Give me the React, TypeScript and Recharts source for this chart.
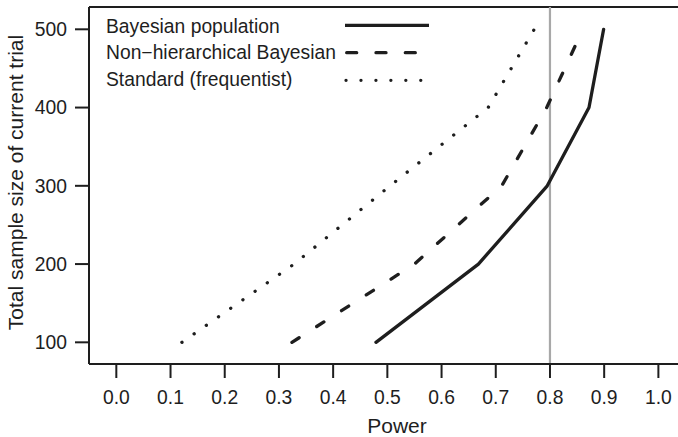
import React from 'react';
import { LineChart, Line, XAxis, YAxis, ReferenceLine, Legend } from 'recharts';

// Power (x) vs total sample size (y)
const bayesPopPower = [0.479, 0.668, 0.795, 0.872, 0.899];
const bayesPopN = [100, 200, 300, 400, 500];

const nonHierPower = [0.324, 0.55, 0.711, 0.794, 0.848];
const nonHierN = [100, 200, 300, 400, 481];

const standardPower = [0.121, 0.328, 0.505, 0.686, 0.771];
const standardN = [100, 200, 300, 400, 500];

const xTicks = [0, 0.1, 0.2, 0.3, 0.4, 0.5, 0.6, 0.7, 0.8, 0.9, 1.0];
const yTicks = [100, 200, 300, 400, 500];
const targetPower = 0.8;

const seriesNames = ['Bayesian population', 'Non\u2212hierarchical Bayesian', 'Standard (frequentist)'];

const toPoints = (xs: number[], ys: number[]) => xs.map((x, i) => ({ power: x, n: ys[i] }));

const FONT = '"Liberation Sans", Arial, Helvetica, sans-serif';
const INK = '#1e1e1e';

const series = [
  { name: seriesNames[0], data: toPoints(bayesPopPower, bayesPopN), dash: undefined as string | undefined, legendDash: undefined as string | undefined },
  { name: seriesNames[1], data: toPoints(nonHierPower, nonHierN), dash: '8.5 20.9', legendDash: '10 19.3' },
  { name: seriesNames[2], data: toPoints(standardPower, standardN), dash: '0.05 14.82', legendDash: '0.05 14.9' },
];

const Y_DOMAIN: [number, number] = [72.3, 528.5];
const X_DOMAIN: [number, number] = [-0.0504, 1.086];

const renderLegend = () => {
  const lineYs = [25.3, 52.7, 80.3];
  const textYs = [32.7, 59.3, 86];
  const lineStarts = [345, 346.7, 346];
  const lineEnds = [429, 417, 421];
  return (
    <svg width={450} height={100} style={{ display: 'block' }}>
      {series.map((s, i) => (
        <g key={s.name}>
          <text x={106} y={textYs[i]} fontFamily={FONT} fontSize={19.3} fill={INK}>
            {s.name}
          </text>
          <line
            x1={lineStarts[i]}
            x2={lineEnds[i]}
            y1={lineYs[i]}
            y2={lineYs[i]}
            stroke={INK}
            strokeWidth={3.3}
            strokeLinecap={i === 0 ? 'butt' : 'round'}
            strokeDasharray={s.legendDash}
          />
        </g>
      ))}
    </svg>
  );
};

const YLabel = (props: any) => {
  const vb = props.viewBox || { x: 0, y: 0, width: 0, height: 0 };
  const x = vb.x + 23;
  const y = vb.y + vb.height / 2 - 3;
  return (
    <text
      x={x}
      y={y}
      transform={`rotate(-90, ${x}, ${y})`}
      textAnchor="middle"
      fontFamily={FONT}
      fontSize={21}
      fill={INK}
    >
      Total sample size of current trial
    </text>
  );
};

export default function App() {
  return (
    <div style={{ position: 'absolute', left: 0, top: 0, width: 678, height: 437, overflow: 'hidden', background: '#fff' }}>
      <LineChart width={705} height={437} margin={{ top: 7, right: 0, bottom: 0, left: 0 }}>
        <XAxis
          type="number"
          dataKey="power"
          domain={X_DOMAIN}
          allowDataOverflow
          ticks={xTicks}
          tickFormatter={(v: number) => v.toFixed(1)}
          height={73}
          tickSize={14}
          tickMargin={12}
          axisLine={{ stroke: INK, strokeWidth: 2 }}
          tickLine={{ stroke: INK, strokeWidth: 2 }}
          tick={{ fill: INK, fontSize: 19.3, fontFamily: FONT }}
          label={{ value: 'Power', position: 'insideBottom', offset: 4, fill: INK, fontSize: 21, fontFamily: FONT }}
        />
        <YAxis
          type="number"
          dataKey="n"
          domain={Y_DOMAIN}
          allowDataOverflow
          ticks={yTicks}
          width={89}
          tickSize={14}
          tickMargin={8}
          axisLine={{ stroke: INK, strokeWidth: 2 }}
          tickLine={{ stroke: INK, strokeWidth: 2 }}
          tick={{ fill: INK, fontSize: 19.3, fontFamily: FONT }}
          label={<YLabel />}
        />
        <ReferenceLine y={Y_DOMAIN[1]} stroke={INK} strokeWidth={2} ifOverflow="visible" />
        <ReferenceLine x={targetPower} stroke="#a8a8a8" strokeWidth={2.2} />
        {series.map((s) => (
          <Line
            key={s.name}
            data={s.data}
            dataKey="n"
            name={s.name}
            type="linear"
            stroke={INK}
            strokeWidth={3.3}
            strokeDasharray={s.dash}
            strokeLinecap="round"
            strokeLinejoin="round"
            dot={false}
            activeDot={false}
            isAnimationActive={false}
          />
        ))}
        <Legend
          layout="vertical"
          align="center"
          verticalAlign="middle"
          content={renderLegend}
          wrapperStyle={{ position: 'absolute', left: 0, top: 0, width: 450, height: 100 }}
        />
      </LineChart>
    </div>
  );
}
